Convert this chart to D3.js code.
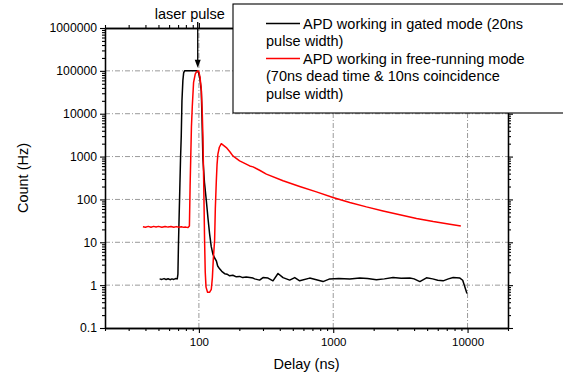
<!DOCTYPE html>
<html>
<head>
<meta charset="utf-8">
<script src="https://cdn.jsdelivr.net/npm/d3@7"></script>
<style>
  body { margin: 0; background: #fff; }
  svg { font-family: "Liberation Sans", Arial, sans-serif; }
</style>
</head>
<body>
<div id="chart"></div>
<script>
// axis ticks
const xTicks = [100, 1000, 10000];
const yTicks = [0.1, 1, 10, 100, 1000, 10000, 100000, 1000000];

// legend entries
const seriesNames = [
  ["APD working in gated mode (20ns", "pulse width)"],
  ["APD working in free-running mode", "(70ns dead time & 10ns coincidence", "pulse width)"]
];
const seriesColors = ["#000000", "#ff0000"];

// gated mode (black)
const gatedDelay = [51, 53, 55, 57, 59, 61, 63, 65, 67, 69, 69.8, 70.4, 71, 72, 73, 73.9, 74.8, 76, 77, 78.2, 85, 92.9, 97, 99.5, 101.5, 104.2, 105.5, 107.1, 110, 113.6, 117, 120.2, 123.5, 127.1, 131, 134.8, 138, 142.6, 148, 155.5, 162, 169.4, 179, 190, 201, 212, 225, 239, 253, 260, 283, 300, 327, 356, 388, 423, 474, 517, 563, 668, 840, 942, 1100, 1328, 1575, 1800, 2097, 2400, 2790, 3200, 3717, 4000, 4415, 4945, 5500, 6000, 6577, 7200, 7815, 8770, 9200, 9900];
const gatedCount = [1.40, 1.36, 1.42, 1.35, 1.41, 1.34, 1.40, 1.36, 1.42, 1.40, 1.8, 8, 25, 150, 900, 3000, 20000, 60000, 90000, 100000, 100000, 100000, 100000, 90000, 70000, 34000, 8000, 900, 250, 93, 35, 15.5, 8, 5.3, 4.3, 3.7, 2.8, 2.4, 2.1, 1.85, 1.8, 1.65, 1.7, 1.56, 1.6, 1.5, 1.55, 1.5, 1.46, 1.40, 1.31, 1.5, 1.46, 1.26, 1.87, 1.5, 1.31, 1.5, 1.26, 1.46, 1.21, 1.4, 1.42, 1.4, 1.46, 1.42, 1.33, 1.40, 1.5, 1.45, 1.46, 1.40, 1.21, 1.48, 1.40, 1.30, 1.26, 1.40, 1.5, 1.46, 1.30, 0.64];

// free-running mode (red)
const freeDelay = [38.3, 40, 42, 44, 46, 48, 50, 53, 56, 59, 62, 65, 68, 71, 74, 77, 80, 83, 85, 86, 87, 88, 89.3, 91.3, 94, 96, 98.3, 100, 102, 104.2, 106, 107.1, 108.5, 110.3, 111.5, 113, 116, 120, 123.7, 126, 128, 130.9, 132.5, 134.8, 136.5, 138.5, 142, 146.8, 150, 155, 160, 170, 179, 201, 225, 239, 253, 283, 318, 423, 563, 750, 996, 1328, 1767, 2350, 3130, 4170, 5550, 7385, 8910];
const freeCount = [23, 22.5, 23.5, 22.5, 23.5, 22.8, 23.5, 22.5, 23.4, 22.6, 23.3, 22.5, 23.2, 22.4, 23, 22.3, 22.6, 22, 24, 200, 1000, 5000, 15000, 54000, 85000, 95000, 100000, 95000, 70000, 37000, 10000, 3000, 300, 10, 2, 0.9, 0.68, 0.68, 0.8, 1.5, 4, 11, 60, 270, 650, 1140, 1650, 2000, 1900, 1750, 1620, 1300, 1040, 795, 665, 605, 575, 480, 390, 272, 200, 150, 111, 85, 67, 54, 44, 36, 30.5, 26.5, 24];

const width = 563, height = 378;
const margin = { top: 28, right: 55, bottom: 50, left: 105 };

const svg = d3.select("#chart").append("svg")
  .attr("width", width)
  .attr("height", height);

const x = d3.scaleLog()
  .domain([20, 20000])
  .range([margin.left, width - margin.right]);

const y = d3.scaleLog()
  .domain([0.1, 1000000])
  .range([height - margin.bottom, margin.top]);

// minor tick values, 2..9 of every decade
const minorX = [];
for (let d = 10; d <= 10000; d *= 10) for (let k = 2; k <= 9; k++) if (d * k >= 20 && d * k <= 20000) minorX.push(d * k);
const minorY = [];
for (let d = 0.1; d < 1000000; d *= 10) for (let k = 2; k <= 9; k++) minorY.push(d * k);

// grid
const gridDash = "5,2,1,2";
svg.append("g")
  .selectAll("line")
  .data(xTicks)
  .join("line")
  .attr("x1", d => x(d)).attr("x2", d => x(d))
  .attr("y1", y.range()[0]).attr("y2", y.range()[1])
  .attr("stroke", "#9a9a9a")
  .attr("stroke-dasharray", gridDash);

svg.append("g")
  .selectAll("line")
  .data(yTicks.slice(1, -1))
  .join("line")
  .attr("x1", x.range()[0]).attr("x2", x.range()[1])
  .attr("y1", d => y(d)).attr("y2", d => y(d))
  .attr("stroke", "#9a9a9a")
  .attr("stroke-dasharray", gridDash);

// axes (box frame with mirrored ticks)
const fmt = d => d3.format("")(d);
function styleAxis(g) {
  g.selectAll(".domain").attr("stroke", "#000").attr("stroke-width", 1.3);
  g.selectAll(".tick line").attr("stroke", "#000").attr("stroke-width", 1.1);
}

svg.append("g")
  .attr("transform", `translate(0,${y.range()[0]})`)
  .call(d3.axisBottom(x).tickValues(xTicks).tickFormat(fmt).tickSize(5).tickSizeOuter(0).tickPadding(5))
  .call(styleAxis)
  .call(g => g.selectAll("text").attr("font-size", 11.5).attr("fill", "#000").attr("font-family", null));

svg.append("g")
  .attr("transform", `translate(0,${y.range()[0]})`)
  .call(d3.axisBottom(x).tickValues(minorX).tickFormat("").tickSize(3).tickSizeOuter(0))
  .call(styleAxis);

svg.append("g")
  .attr("transform", `translate(0,${y.range()[1]})`)
  .call(d3.axisTop(x).tickValues(xTicks).tickFormat("").tickSize(5).tickSizeOuter(0))
  .call(styleAxis);

svg.append("g")
  .attr("transform", `translate(0,${y.range()[1]})`)
  .call(d3.axisTop(x).tickValues(minorX).tickFormat("").tickSize(3).tickSizeOuter(0))
  .call(styleAxis);

svg.append("g")
  .attr("transform", `translate(${x.range()[0]},0)`)
  .call(d3.axisLeft(y).tickValues(yTicks).tickFormat(fmt).tickSize(5).tickSizeOuter(0).tickPadding(3))
  .call(styleAxis)
  .call(g => g.selectAll("text").attr("font-size", 12.2).attr("fill", "#000").attr("font-family", null));

svg.append("g")
  .attr("transform", `translate(${x.range()[0]},0)`)
  .call(d3.axisLeft(y).tickValues(minorY).tickFormat("").tickSize(3).tickSizeOuter(0))
  .call(styleAxis);

svg.append("g")
  .attr("transform", `translate(${x.range()[1]},0)`)
  .call(d3.axisRight(y).tickValues(yTicks).tickFormat("").tickSize(5).tickSizeOuter(0))
  .call(styleAxis);

svg.append("g")
  .attr("transform", `translate(${x.range()[1]},0)`)
  .call(d3.axisRight(y).tickValues(minorY).tickFormat("").tickSize(3).tickSizeOuter(0))
  .call(styleAxis);

// axis titles
svg.append("text")
  .attr("x", (x.range()[0] + x.range()[1]) / 2)
  .attr("y", 369)
  .attr("text-anchor", "middle")
  .attr("font-size", 14.5)
  .text("Delay (ns)");

svg.append("text")
  .attr("transform", `translate(28,${(y.range()[0] + y.range()[1]) / 2}) rotate(-90)`)
  .attr("text-anchor", "middle")
  .attr("font-size", 14.5)
  .text("Count (Hz)");

// data lines
const line = d3.line()
  .x(d => x(d[0]))
  .y(d => y(d[1]));

const gated = gatedDelay.map((d, i) => [d, gatedCount[i]]);
const free = freeDelay.map((d, i) => [d, freeCount[i]]);

svg.append("path")
  .datum(gated)
  .attr("fill", "none")
  .attr("stroke", seriesColors[0])
  .attr("stroke-width", 1.5)
  .attr("stroke-linejoin", "round")
  .attr("d", line);

svg.append("path")
  .datum(free)
  .attr("fill", "none")
  .attr("stroke", seriesColors[1])
  .attr("stroke-width", 1.5)
  .attr("stroke-linejoin", "round")
  .attr("d", line);

// laser pulse annotation
const ax = x(98);
svg.append("text")
  .attr("x", ax - 43)
  .attr("y", 19)
  .attr("font-size", 14.5)
  .text("laser pulse");

svg.append("line")
  .attr("x1", ax).attr("x2", ax)
  .attr("y1", 22).attr("y2", y(100000) - 10)
  .attr("stroke", "#000")
  .attr("stroke-width", 1.3);

svg.append("path")
  .attr("d", `M${ax - 3},${y(100000) - 11}L${ax + 3},${y(100000) - 11}L${ax},${y(100000) - 3}Z`)
  .attr("fill", "#000");

// legend
const legend = svg.append("g").attr("transform", "translate(233,4)");
legend.append("rect")
  .attr("x", 0).attr("y", 0)
  .attr("width", 340).attr("height", 109)
  .attr("fill", "#fff")
  .attr("stroke", "#000")
  .attr("stroke-width", 1.1);

const lineGap = 17.5;
let row = 0;
seriesNames.forEach((lines, i) => {
  const base = 24.5 + row * lineGap;
  legend.append("line")
    .attr("x1", 33).attr("x2", 67)
    .attr("y1", base - 5).attr("y2", base - 5)
    .attr("stroke", seriesColors[i])
    .attr("stroke-width", 1.5);
  lines.forEach((t, j) => {
    legend.append("text")
      .attr("x", j === 0 ? 70 : 33)
      .attr("y", base + j * lineGap)
      .attr("font-size", 14.5)
      .text(t);
  });
  row += lines.length;
});
</script>
</body>
</html>
